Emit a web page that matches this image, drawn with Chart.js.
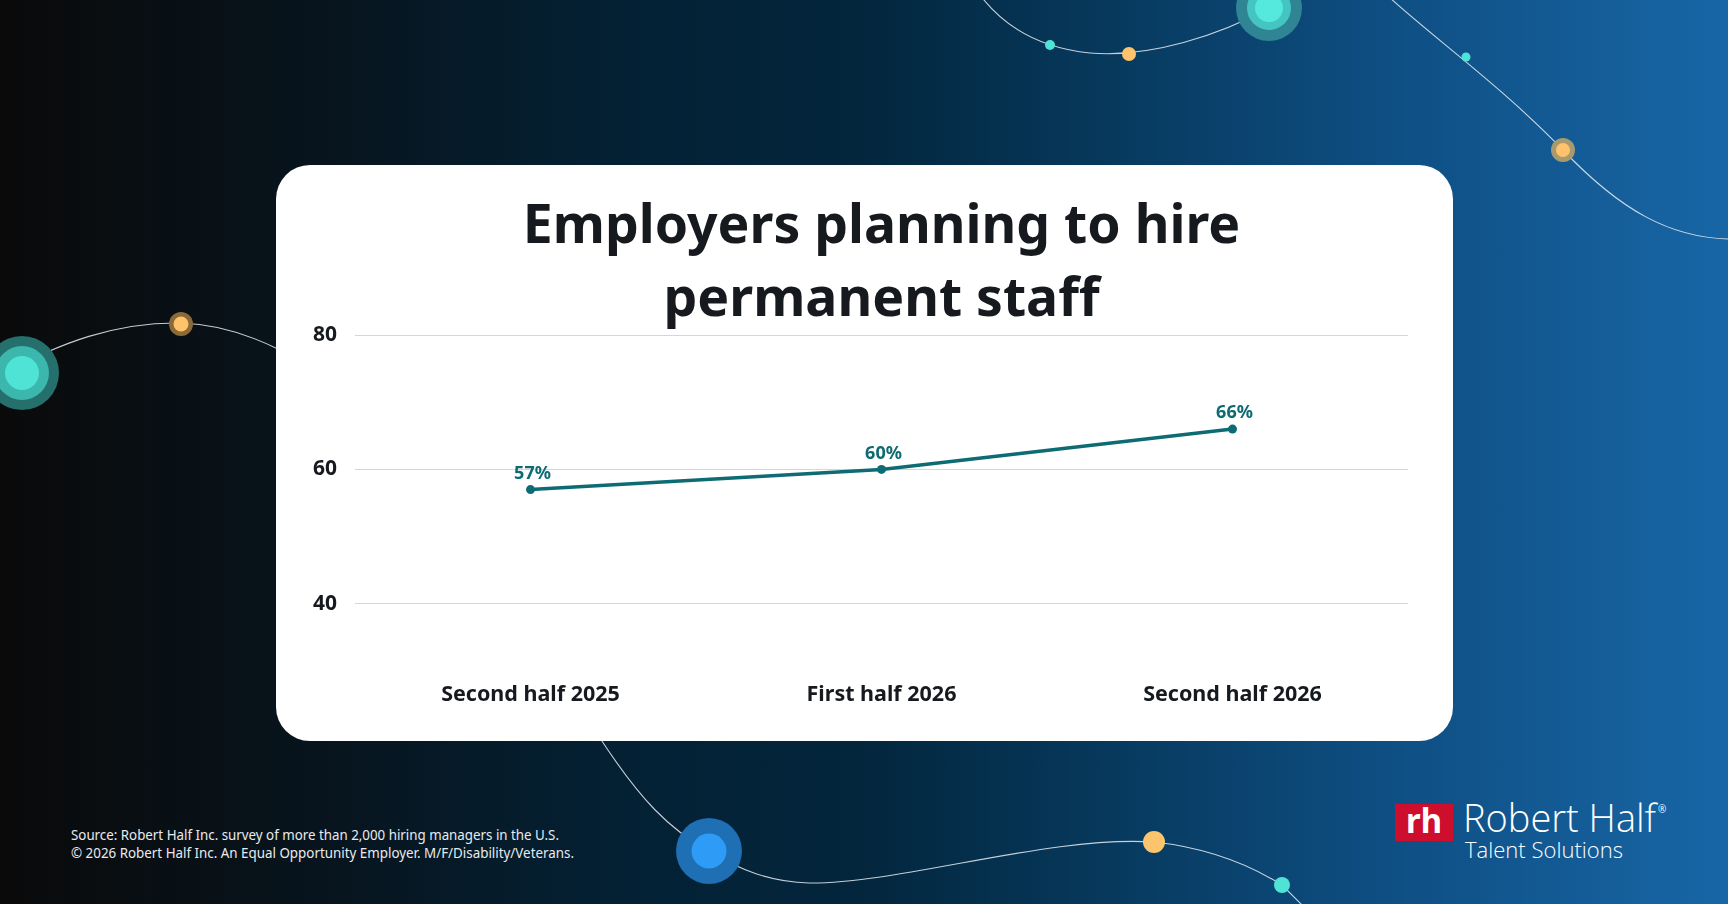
<!DOCTYPE html>
<html>
<head>
<meta charset="utf-8">
<title>Employers planning to hire permanent staff</title>
<script src="https://cdn.jsdelivr.net/npm/chart.js@4.4.1/dist/chart.umd.min.js"></script>
<style>
  html, body { margin: 0; padding: 0; }
  body {
    width: 1728px;
    height: 904px;
    overflow: hidden;
    position: relative;
    font-family: 'Noto Sans', sans-serif;
    background: linear-gradient(90deg, #0a0a0a 0%, #07151f 20%, #042033 35%, #03263d 50%, #063658 62%, #0e4e82 80%, #1866a6 100%);
  }
  #deco { position: absolute; left: 0; top: 0; }
  .card {
    position: absolute;
    left: 276px;
    top: 165px;
    width: 1177px;
    height: 576px;
    background: #ffffff;
    border-radius: 34px;
  }
  .card canvas { position: absolute; left: 0; top: 0; }
</style>
</head>
<body>
<svg id="deco" width="1728" height="904" viewBox="0 0 1728 904">
  <g fill="none" stroke="#e6edf3" stroke-width="1.1" stroke-opacity="0.85">
    <path d="M980,-5 C1005,28 1040,48 1090,53 C1150,58 1220,35 1269,8 C1285,0 1295,-6 1305,-12"/>
    <path d="M1388,-4 C1430,35 1500,85 1563,150 C1620,210 1670,238 1730,239"/>
    <path d="M-10,382 C60,340 120,322 181,323 C215,324 250,335 280,350"/>
    <path d="M598,735 C640,800 670,830 709,851 C740,870 770,882 809,883 C900,884 1050,835 1154,842 C1210,848 1250,865 1282,885 L1305,908"/>
  </g>
  <!-- teal, top -->
  <circle cx="1269" cy="8" r="33" fill="#2f8594"/>
  <circle cx="1269" cy="8" r="22" fill="#45c4c4"/>
  <circle cx="1269" cy="8" r="14" fill="#55e8dc"/>
  <circle cx="1050" cy="45" r="5" fill="#4fe3d6"/>
  <circle cx="1129" cy="54" r="7" fill="#ffc46b"/>
  <!-- top right -->
  <circle cx="1466" cy="57" r="4.5" fill="#4fe3d6"/>
  <circle cx="1563" cy="150" r="12" fill="#a89a6e"/>
  <circle cx="1563" cy="150" r="7" fill="#ffc46b"/>
  <!-- left -->
  <circle cx="22" cy="373" r="37" fill="#256f6c"/>
  <circle cx="22" cy="373" r="27" fill="#3bb7ad"/>
  <circle cx="22" cy="373" r="17" fill="#4fe3d6"/>
  <circle cx="181" cy="324" r="12" fill="#8a6a38"/>
  <circle cx="181" cy="324" r="7.5" fill="#ffc46b"/>
  <!-- bottom -->
  <circle cx="709" cy="851" r="33" fill="#1e6fb3"/>
  <circle cx="709" cy="851" r="17.5" fill="#2e9cf7"/>
  <circle cx="1154" cy="842" r="11" fill="#fcc56d"/>
  <circle cx="1282" cy="885" r="8" fill="#4fe3d6"/>

  <!-- footer -->
  <g fill="#e8ebee" font-family="Noto Sans" font-size="14">
    <text x="71" y="840" textLength="488" lengthAdjust="spacingAndGlyphs">Source: Robert Half Inc. survey of more than 2,000 hiring managers in the U.S.</text>
    <text x="71" y="858" textLength="503" lengthAdjust="spacingAndGlyphs">© 2026 Robert Half Inc. An Equal Opportunity Employer. M/F/Disability/Veterans.</text>
  </g>

  <!-- logo -->
  <rect x="1395" y="804" width="58" height="37" fill="#ce0e2d"/>
  <text x="1424" y="833" fill="#ffffff" font-family="Noto Sans" font-weight="bold" font-size="34" text-anchor="middle" textLength="36" lengthAdjust="spacingAndGlyphs">rh</text>
  <text x="1463" y="832" fill="#ffffff" font-family="Open Sans" font-weight="300" font-size="38" textLength="193" lengthAdjust="spacingAndGlyphs">Robert Half</text>
  <text x="1658" y="813" fill="#ffffff" font-family="Open Sans" font-size="10">®</text>
  <text x="1465" y="858" fill="#ffffff" font-family="Open Sans" font-weight="300" font-size="22" textLength="158" lengthAdjust="spacingAndGlyphs">Talent Solutions</text>
</svg>

<div class="card">
  <canvas id="chart" width="1177" height="576"></canvas>
</div>

<script>
const categories = ['Second half 2025', 'First half 2026', 'Second half 2026'];
const hiringShare = [57, 60, 66];
const yTicks = [40, 60, 80];
const titleLines = ['Employers planning to hire', 'permanent staff'];

const TEAL = '#0d6b73';
const INK = '#16191d';

// value labels above each point
const pointLabels = {
  id: 'pointLabels',
  afterDatasetsDraw(chart) {
    const ctx = chart.ctx;
    const meta = chart.getDatasetMeta(0);
    ctx.save();
    ctx.font = 'bold 18px "Noto Sans"';
    ctx.fillStyle = TEAL;
    ctx.textAlign = 'center';
    ctx.textBaseline = 'middle';
    meta.data.forEach((pt, i) => {
      ctx.fillText(hiringShare[i] + '%', pt.x + 2, pt.y - 16);
    });
    ctx.restore();
  }
};

new Chart(document.getElementById('chart'), {
  type: 'line',
  data: {
    labels: categories,
    datasets: [{
      data: hiringShare,
      borderColor: TEAL,
      backgroundColor: TEAL,
      borderWidth: 3.5,
      tension: 0,
      pointRadius: 4.5,
      pointHoverRadius: 4.5,
      pointBackgroundColor: TEAL,
      pointBorderWidth: 0,
    }],
  },
  options: {
    responsive: false,
    animation: false,
    devicePixelRatio: 1,
    layout: { padding: { left: 0, right: 45, top: 26, bottom: 0 } },
    plugins: {
      legend: { display: false },
      tooltip: { enabled: false },
      title: {
        display: true,
        text: titleLines,
        fullSize: false,
        color: INK,
        font: { family: 'Noto Sans', size: 53.5, weight: 'bold', lineHeight: 73 / 53.5 },
        padding: { top: 0, bottom: -2 },
      },
    },
    scales: {
      x: {
        offset: true,
        grid: { display: false, drawTicks: false },
        border: { display: false },
        ticks: {
          color: INK,
          padding: 11,
          font: { family: 'Noto Sans', size: 21.5, weight: 'bold' },
        },
        afterFit: (axis) => { axis.height = 70; },
      },
      y: {
        min: 30,
        max: 80,
        ticks: {
          stepSize: 20,
          color: INK,
          padding: 18,
          font: { family: 'Noto Sans', size: 21, weight: 'bold' },
        },
        afterBuildTicks: (axis) => {
          axis.ticks = yTicks.map((v) => ({ value: v }));
        },
        afterFit: (axis) => { axis.width = 79; },
        grid: { color: '#d6d6d6', lineWidth: 1, drawTicks: false },
        border: { display: false },
      },
    },
  },
  plugins: [pointLabels],
});
</script>
</body>
</html>
